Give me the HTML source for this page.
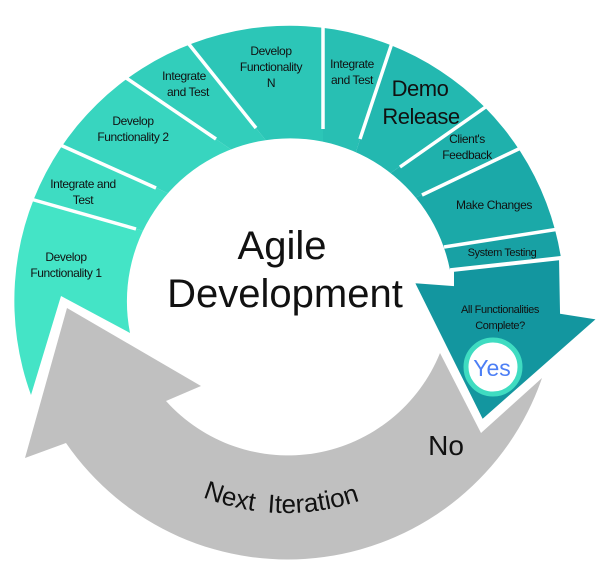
<!DOCTYPE html>
<html><head><meta charset="utf-8"><style>
html,body{margin:0;padding:0;background:#fff;}
svg{display:block;}
text{font-family:"Liberation Sans",sans-serif;fill:#111;}
.s{font-size:12px;letter-spacing:-0.4px;}
</style></head><body>
<svg width="603" height="579" viewBox="0 0 603 579" xmlns="http://www.w3.org/2000/svg">
<defs>
<clipPath id="ring"><path d="M31 395 A275 275 0 1 1 561 258 L450 270 A163 163 0 1 0 130 333 L61 296 Z"/></clipPath>
</defs>
<g clip-path="url(#ring)">
<polygon points="-29,182 165,237 200,460 -30,460" fill="#44e4c6"/>
<polygon points="-29,182 2,118 183,200 165,237" fill="#3edcc2"/>
<polygon points="2,118 66,36 242,157 183,200" fill="#38d5bf"/>
<polygon points="66,36 142,-14 276,153 242,157" fill="#32cebb"/>
<polygon points="142,-14 323,-45 323,160 276,153" fill="#2cc6b7"/>
<polygon points="323,-45 412,-18 351,167 323,160" fill="#28bfb3"/>
<polygon points="412,-18 538,70 375,184 351,167" fill="#23b8b0"/>
<polygon points="538,70 572,124 396,207 375,184" fill="#1fb1ac"/>
<polygon points="572,124 608,222 415,251 396,207" fill="#1ba9a8"/>
<polygon points="608,222 616,252 420,273 415,251" fill="#18a1a4"/>
</g>
<g stroke="#fff" stroke-width="3.5">
<line x1="20" y1="196" x2="136" y2="229"/>
<line x1="47" y1="139" x2="156" y2="188"/>
<line x1="110" y1="67" x2="216" y2="139"/>
<line x1="176" y1="28" x2="256" y2="128"/>
<line x1="323" y1="8" x2="323" y2="129"/>
<line x1="397" y1="28" x2="360" y2="139"/>
<line x1="497" y1="99" x2="400" y2="167"/>
<line x1="527" y1="145" x2="422" y2="195"/>
<line x1="559" y1="229" x2="444" y2="247"/>
</g>
<polygon points="452,270 561,258 562,312 600,318 482,422 412,281 452,284" fill="#13969f" stroke="#fff" stroke-width="4" stroke-linejoin="miter"/>
<path d="M67 308 L25 458 L66 443 A269 269 0 0 0 542 378 L481 433 L440 353 A164 164 0 0 1 166 401 L201 386 Z" fill="#c0c0c0" stroke="#fff" stroke-width="5" stroke-linejoin="miter" paint-order="stroke"/>
<circle cx="493" cy="367" r="27" fill="#fff" stroke="#3fdcc1" stroke-width="5"/>
<text x="492" y="376" font-size="23" text-anchor="middle" style="fill:#4d7ff5">Yes</text>
<g class="s" text-anchor="middle">
<text x="271" y="55">Develop</text><text x="271" y="71">Functionality</text><text x="271" y="87">N</text>
<text x="352" y="68">Integrate</text><text x="352" y="84">and Test</text>
<text x="184" y="80">Integrate</text><text x="188" y="96">and Test</text>
<text x="133" y="125">Develop</text><text x="133" y="141">Functionality 2</text>
<text x="83" y="188">Integrate and</text><text x="83" y="204">Test</text>
<text x="66" y="261">Develop</text><text x="66" y="277">Functionality 1</text>
<text x="467" y="143">Client's</text><text x="467" y="159">Feedback</text>
<text x="494" y="209">Make Changes</text>
<text x="502" y="256" font-size="11">System Testing</text>
<text x="500" y="313" font-size="11">All Functionalities</text><text x="500" y="329" font-size="11">Complete?</text>
</g>
<text x="420" y="96" font-size="22" text-anchor="middle" letter-spacing="-0.5">Demo</text>
<text x="421" y="124" font-size="22" text-anchor="middle" letter-spacing="-0.5">Release</text>
<text x="282" y="259" font-size="40" text-anchor="middle">Agile</text>
<text x="285" y="307" font-size="40" text-anchor="middle">Development</text>
<text x="446" y="455" font-size="28" text-anchor="middle">No</text>
<path id="np" d="M82 383 A225 225 0 0 0 490 383" fill="none"/>
<text font-size="26"><textPath href="#np" startOffset="49%" text-anchor="middle" word-spacing="6">Next Iteration</textPath></text>
</svg>
</body></html>
